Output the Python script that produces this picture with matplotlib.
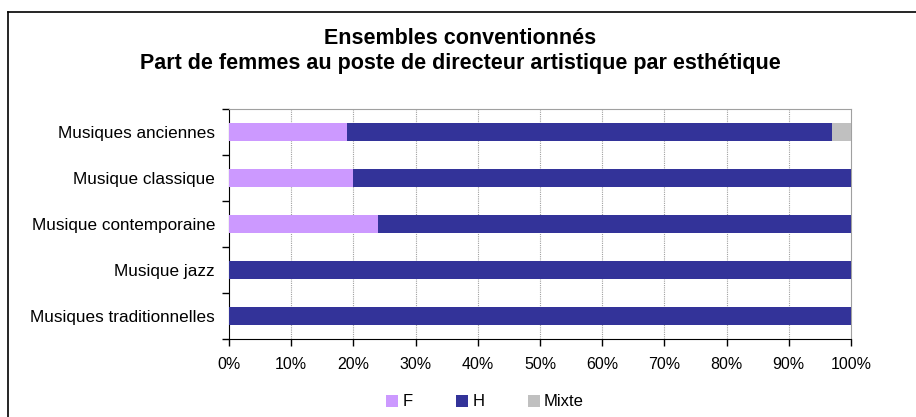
import numpy as np
import matplotlib.pyplot as plt
from matplotlib.lines import Line2D
from matplotlib.patches import Patch

plt.rcParams['font.family'] = ['Liberation Sans', 'DejaVu Sans']

categories = ['Musiques anciennes', 'Musique classique', 'Musique contemporaine',
              'Musique jazz', 'Musiques traditionnelles']
share_f = [19, 20, 24, 0, 0]
share_h = [78, 80, 76, 100, 100]
share_mixte = [3, 0, 0, 0, 0]
series_names = ['F', 'H', 'Mixte']
colors = ['#CC99FF', '#333399', '#C0C0C0']
x_ticks = list(range(0, 101, 10))

fig = plt.figure(figsize=(9.16, 4.17), dpi=100)
ax = fig.add_axes([229 / 916, 78 / 417, 622 / 916, 230 / 417])

y = np.arange(len(categories))
left = np.zeros(len(categories))
for vals, col in zip([share_f, share_h, share_mixte], colors):
    ax.barh(y, vals, left=left, height=0.39, color=col, zorder=3)
    left += np.array(vals)

ax.set_xlim(0, 100)
ax.set_ylim(len(categories) - 0.5, -0.5)
ax.set_xticks(x_ticks)
ax.set_xticklabels([f'{v}%' for v in x_ticks], fontsize=11.5)
ax.set_yticks(y)
ax.set_yticklabels(categories, fontsize=12.3)
ax.set_yticks(np.arange(-0.5, len(categories), 1), minor=True)
ax.tick_params(axis='y', which='major', length=0, pad=10)
ax.tick_params(axis='y', which='minor', length=5, width=1, direction='out')
ax.tick_params(axis='x', length=5, width=1, direction='out', pad=8)

for v in x_ticks[1:-1]:
    ax.axvline(v, color='#A0A0A0', linestyle=(0, (1, 1)), linewidth=0.8, zorder=1)

ax.spines['left'].set_color('black')
ax.spines['bottom'].set_color('black')
ax.spines['top'].set_color('#A0A0A0')
ax.spines['right'].set_color('#A0A0A0')

fig.text(460 / 916, 1 - 39 / 417, 'Ensembles conventionnés', ha='center', va='center',
         fontsize=15.5, fontweight='bold')
fig.text(460 / 916, 1 - 64 / 417, 'Part de femmes au poste de directeur artistique par esthétique',
         ha='center', va='center', fontsize=15.5, fontweight='bold')

handles = [Patch(facecolor=c, edgecolor='none') for c in colors]
fig.legend(handles, series_names, loc='center', bbox_to_anchor=(485 / 916, 1 - 402 / 417),
           ncol=3, frameon=False, fontsize=12, handlelength=0.72, handleheight=0.72,
           handletextpad=0.25, columnspacing=2.6, borderpad=0)

# outer chart frame
fig.add_artist(Line2D([8 / 916, 8 / 916], [0, 1 - 12 / 417], color='black', linewidth=1.2,
                      transform=fig.transFigure))
fig.add_artist(Line2D([8 / 916, 1], [1 - 12 / 417, 1 - 12 / 417], color='black', linewidth=1.2,
                      transform=fig.transFigure))

fig.savefig('out.png', dpi=100)
